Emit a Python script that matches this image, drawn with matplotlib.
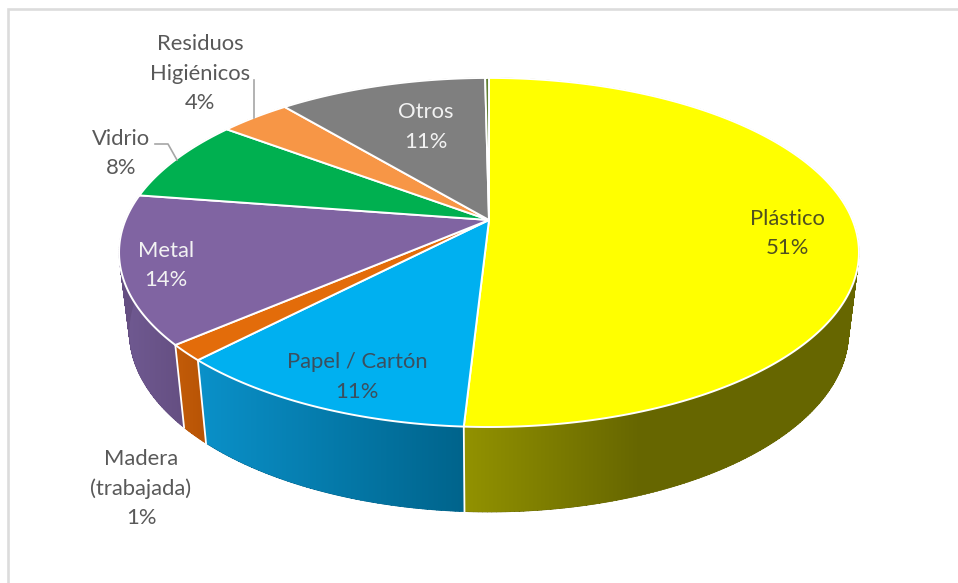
import numpy as np
import matplotlib
matplotlib.use("Agg")
import matplotlib.pyplot as plt
from matplotlib.colors import to_rgb
from matplotlib.patches import Polygon, PathPatch
from matplotlib.path import Path

# Slices, clockwise from 12 o'clock
categories = ["Plástico", "Papel / Cartón", "Madera\n(trabajada)", "Metal",
              "Vidrio", "Residuos\nHigiénicos", "Otros", ""]
values = [50.9, 11.3, 1.5, 13.7, 7.8, 3.7, 10.9, 0.2]
pct_labels = ["51%", "11%", "1%", "14%", "8%", "4%", "11%", ""]

colors = ["#FFFF00", "#00B0F0", "#E36C0A", "#8064A2", "#00B050", "#F79646", "#7F7F7F", "#5F7F2F"]
# side wall shading: x where the ramp runs, colour at each end
wall_x = [(465, 640), (203, 463), (182, 203), (122, 182), (120, 180), (120, 180), (120, 180), (120, 180)]
wall_cols = [("#929200", "#666600"), ("#0A90C8", "#00648C"), ("#C05A08", "#B85406"), ("#705A92", "#654F82"),
             ("#008040", "#008040"), ("#B87030", "#B87030"), ("#606060", "#606060"), ("#405020", "#405020")]

label_pos = [(787, 219), (357, 362), (141, 459), (166, 251), (121, 139), (200, 44), (426, 112)]
label_cols = ["#505020", "#3B4F5E", "#595959", "#F2F2F2", "#595959", "#595959", "#F2F2F2"]

# perspective of the pie in pixels
cx, cy = 489, 220
ax_x, ax_y, k = 363.5, 168.5, 0.186
depth, shrink_x, stretch_y = 79, 0.972, 1.029


def rim(theta):
    w = 1 + k * np.cos(theta)
    return cx + ax_x * np.sin(theta) / w, cy - ax_y * np.cos(theta) / w


def lower(x, y):
    return cx + shrink_x * (x - cx), cy + depth + stretch_y * (y - cy)


fig = plt.figure(figsize=(9.58, 5.83), dpi=100)
ax = fig.add_axes([0, 0, 1, 1])
ax.axis("off")

# chart frame
ax.plot([8.5, 8.5, 958], [583, 9.3, 9.3], color="#DCDCDC", lw=1.9, zorder=1, solid_joinstyle="miter")

edges = np.cumsum([0] + values) / sum(values) * 2 * np.pi

# side walls: flat strips give the outline, a clipped ramp goes on top
xs = np.arange(0, 958)
for i in range(len(values)):
    t = np.linspace(edges[i], edges[i + 1], max(int(values[i] * 6), 4))
    quads = []
    for a, b in zip(t[:-1], t[1:]):
        xa, ya = rim(a)
        xb, yb = rim(b)
        quads.append([(xa, ya), (xb, yb), lower(xb, yb), lower(xa, ya), (xa, ya)])
    c0, c1 = to_rgb(wall_cols[i][0]), to_rgb(wall_cols[i][1])
    ramp = np.array([np.interp(xs, wall_x[i], [c0[n], c1[n]]) for n in range(3)]).T[None, :, :]
    clip = Path.make_compound_path(*[Path(q, closed=True) for q in quads])
    ax.add_patch(PathPatch(clip, facecolor=wall_cols[i][1], edgecolor=wall_cols[i][1], lw=0.5, zorder=2))
    im = ax.imshow(ramp, extent=(0, 958, 583, 0), aspect="auto", interpolation="nearest", zorder=2.5)
    im.set_clip_path(PathPatch(clip, transform=ax.transData))

ax.set_xlim(0, 958)
ax.set_ylim(583, 0)

# white seams on the wall between slices
for e in edges[1:4]:
    x, y = rim(e)
    lx, ly = lower(x, y)
    ax.plot([x, lx], [y, ly], color="white", lw=1.3, zorder=3)

# top face
for i in range(len(values)):
    t = np.linspace(edges[i], edges[i + 1], max(int(values[i] * 12), 4))
    x, y = rim(t)
    pts = np.column_stack([np.r_[cx, x], np.r_[cy, y]])
    ax.add_patch(Polygon(pts, closed=True, facecolor=colors[i], edgecolor="white", lw=1.4, zorder=4,
                         joinstyle="round"))

# labels
for name, pct, pos, col in zip(categories, pct_labels, label_pos, label_cols):
    lines = name.split("\n") + [pct]
    for j, s in enumerate(lines):
        ax.text(pos[0], pos[1] + j * 29.5, s, ha="center", va="center", fontsize=15.8,
                family="Lato", color=col, zorder=6)

# leader lines
ax.plot([254, 254], [80, 118], color="#A6A6A6", lw=1.2, zorder=5)
ax.plot([155, 168, 177], [144, 144, 160], color="#A6A6A6", lw=1.2, zorder=5)

fig.savefig("out.png", dpi=100)
